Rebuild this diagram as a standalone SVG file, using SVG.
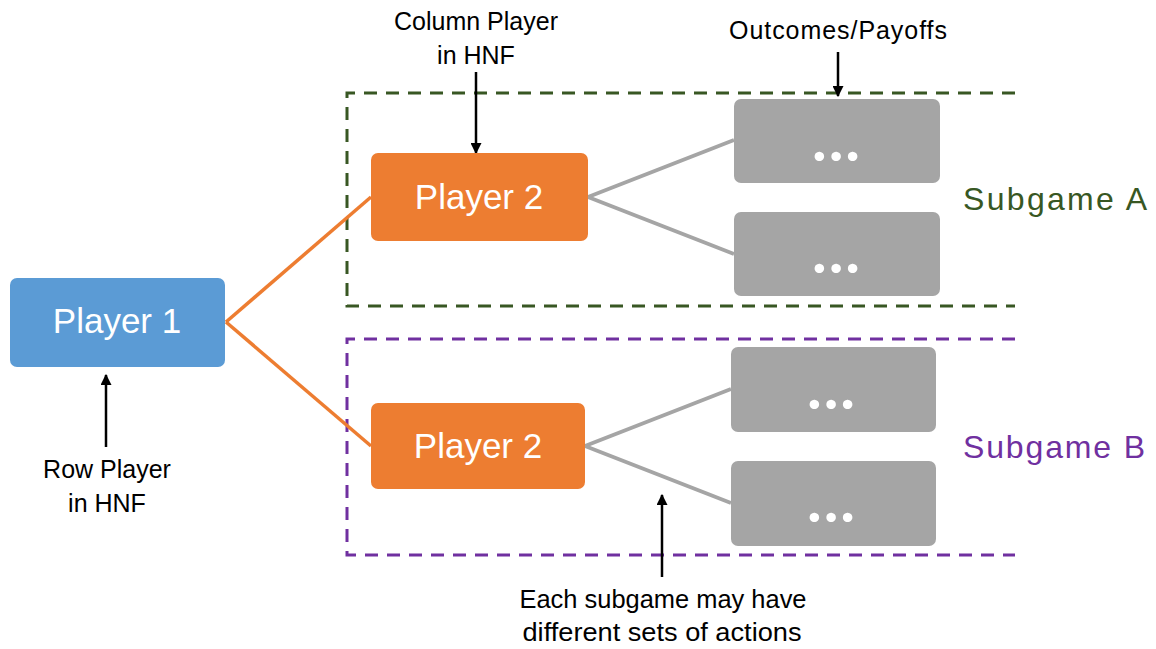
<svg xmlns="http://www.w3.org/2000/svg" width="1156" height="649" viewBox="0 0 1156 649">
<style>
.lbl{font-family:"Liberation Sans",Arial,sans-serif;font-size:25px;fill:#000;text-anchor:middle}
.big{font-family:"Liberation Sans",Arial,sans-serif;font-size:35px;fill:#fff;text-anchor:middle}
.dots{font-family:Lato,"Open Sans",sans-serif;font-size:62px;font-weight:bold;fill:#fff;text-anchor:middle;letter-spacing:2px}
.sub{font-family:"Liberation Sans",Arial,sans-serif;font-size:32px;text-anchor:start}
.arrow{stroke:#000;stroke-width:2.5;fill:none;marker-end:url(#ah)}
.orange{stroke:#ED7D31;stroke-width:3.5;fill:none}
.grey{stroke:#A5A5A5;stroke-width:4;fill:none}
.box{fill:#A5A5A5}
</style>
<defs>
<marker id="ah" viewBox="0 0 10 10" refX="9" refY="5" markerWidth="4.4" markerHeight="4.4" orient="auto" markerUnits="strokeWidth">
<path d="M0,0 L10,5 L0,10 z" fill="#000"/>
</marker>
</defs>
<rect width="1156" height="649" fill="#fff"/>

<g id="subgameA-frame">
<path d="M1015,93 H347 V306 H1015" fill="none" stroke="#385723" stroke-width="3" stroke-dasharray="13,9"/>
<text class="sub" x="963" y="210" fill="#385723" textLength="184">Subgame A</text>
</g>
<g id="subgameB-frame">
<path d="M1015,339 H347 V555 H1015" fill="none" stroke="#7030A0" stroke-width="3" stroke-dasharray="13,9"/>
<text class="sub" x="963" y="458" fill="#7030A0" textLength="182">Subgame B</text>
</g>

<g id="connectors">
<line class="orange" x1="226" y1="322" x2="371" y2="197"/>
<line class="orange" x1="226" y1="322" x2="371" y2="446"/>
<line class="grey" x1="588" y1="197" x2="734" y2="140"/>
<line class="grey" x1="588" y1="197" x2="734" y2="254"/>
<line class="grey" x1="585" y1="446" x2="731" y2="389"/>
<line class="grey" x1="585" y1="446" x2="731" y2="503"/>
<line class="arrow" x1="106" y1="447" x2="106" y2="375"/>
<line class="arrow" x1="476" y1="72" x2="476" y2="153"/>
<line class="arrow" x1="838" y1="52" x2="838" y2="96"/>
<line class="arrow" x1="662" y1="577" x2="662" y2="495"/>
</g>

<g id="player1">
<rect x="10" y="278" width="215" height="89" rx="7" fill="#5B9BD5"/>
<text class="big" x="117" y="333">Player 1</text>
</g>
<g id="player2a">
<rect x="371" y="153" width="217" height="88" rx="7" fill="#ED7D31"/>
<text class="big" x="479" y="209">Player 2</text>
</g>
<g id="player2b">
<rect x="371" y="403" width="214" height="86" rx="7" fill="#ED7D31"/>
<text class="big" x="478" y="458">Player 2</text>
</g>
<g id="outcomeA1">
<rect class="box" x="734" y="99" width="206" height="84" rx="7"/>
<text class="dots" x="837" y="161">...</text>
</g>
<g id="outcomeA2">
<rect class="box" x="734" y="212" width="206" height="84" rx="7"/>
<text class="dots" x="837" y="273">...</text>
</g>
<g id="outcomeB1">
<rect class="box" x="731" y="347" width="205" height="85" rx="7"/>
<text class="dots" x="832" y="409">...</text>
</g>
<g id="outcomeB2">
<rect class="box" x="731" y="461" width="205" height="85" rx="7"/>
<text class="dots" x="832" y="522">...</text>
</g>

<g id="label-row">
<text class="lbl" x="107" y="478">Row Player</text>
<text class="lbl" x="107" y="512">in HNF</text>
</g>
<g id="label-column">
<text class="lbl" x="476" y="30">Column Player</text>
<text class="lbl" x="476" y="64">in HNF</text>
</g>
<g id="label-outcomes">
<text class="lbl" x="838" y="39" textLength="218">Outcomes/Payoffs</text>
</g>
<g id="label-subgame">
<text class="lbl" x="663" y="608" textLength="287" lengthAdjust="spacingAndGlyphs">Each subgame may have</text>
<text class="lbl" x="662" y="641" textLength="279" lengthAdjust="spacingAndGlyphs">different sets of actions</text>
</g>
</svg>
